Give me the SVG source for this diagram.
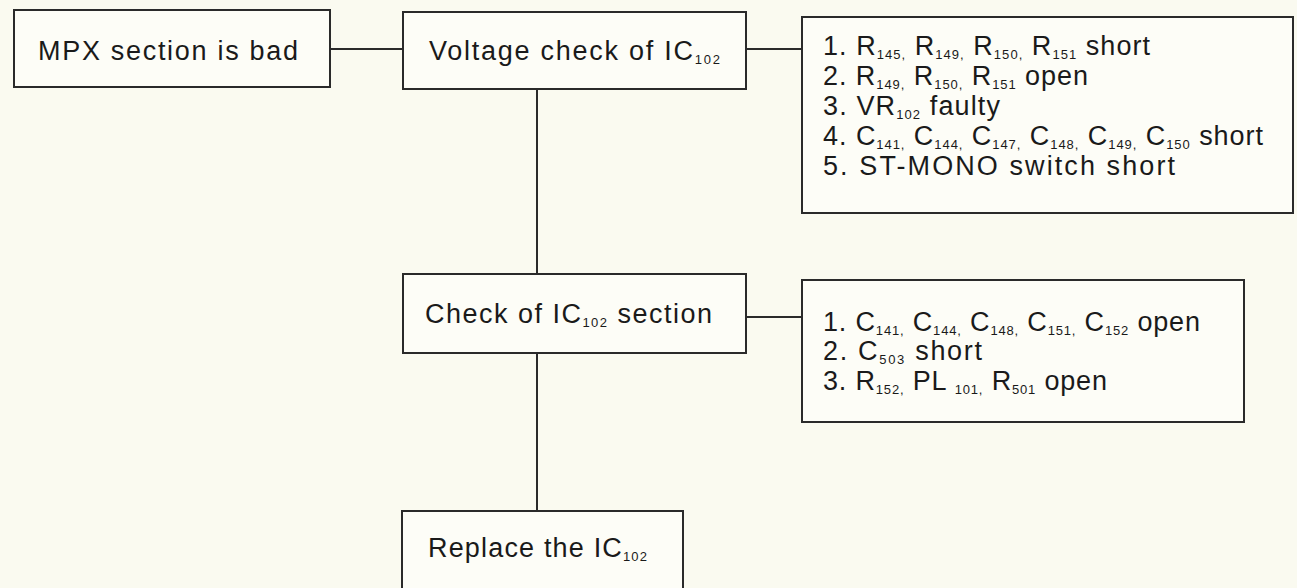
<svg xmlns="http://www.w3.org/2000/svg" width="1297" height="588" viewBox="0 0 1297 588">
<style>
.bx{fill:#fdfdf7;stroke:#2a2a2a;stroke-width:2}
.ln{stroke:#2a2a2a;stroke-width:2;fill:none}
text{font-family:"Liberation Sans",Arial,sans-serif;font-size:27px;fill:#1a1a1a}
.sb{font-size:13px}
</style>
<rect width="1297" height="588" fill="#fafaf0"/>
<g id="connectors">
<line class="ln" x1="330" y1="49" x2="403" y2="49"/>
<line class="ln" x1="746" y1="49" x2="802" y2="49"/>
<line class="ln" x1="537" y1="89" x2="537" y2="274"/>
<line class="ln" x1="746" y1="317" x2="802" y2="317"/>
<line class="ln" x1="537" y1="353" x2="537" y2="511"/>
</g>
<g id="mpx-bad">
<rect class="bx" x="14" y="10" width="316" height="77"/>
<text x="38" y="60" textLength="260" lengthAdjust="spacing">MPX section is bad</text>
</g>
<g id="voltage-check">
<rect class="bx" x="403" y="12" width="343" height="77"/>
<text x="429" y="60" textLength="291" lengthAdjust="spacing">Voltage check of IC<tspan class="sb" dy="4">102</tspan></text>
</g>
<g id="voltage-causes">
<rect class="bx" x="802" y="17" width="491" height="196"/>
<text x="823" y="55" textLength="327" lengthAdjust="spacing">1. R<tspan class="sb" dy="4">145,</tspan><tspan dy="-4"> R</tspan><tspan class="sb" dy="4">149,</tspan><tspan dy="-4"> R</tspan><tspan class="sb" dy="4">150,</tspan><tspan dy="-4"> R</tspan><tspan class="sb" dy="4">151</tspan><tspan dy="-4"> short</tspan></text>
<text x="823" y="85" textLength="265" lengthAdjust="spacing">2. R<tspan class="sb" dy="4">149,</tspan><tspan dy="-4"> R</tspan><tspan class="sb" dy="4">150,</tspan><tspan dy="-4"> R</tspan><tspan class="sb" dy="4">151</tspan><tspan dy="-4"> open</tspan></text>
<text x="823" y="115" textLength="177" lengthAdjust="spacing">3. VR<tspan class="sb" dy="4">102</tspan><tspan dy="-4"> faulty</tspan></text>
<text x="823" y="145" textLength="440" lengthAdjust="spacing">4. C<tspan class="sb" dy="4">141,</tspan><tspan dy="-4"> C</tspan><tspan class="sb" dy="4">144,</tspan><tspan dy="-4"> C</tspan><tspan class="sb" dy="4">147,</tspan><tspan dy="-4"> C</tspan><tspan class="sb" dy="4">148,</tspan><tspan dy="-4"> C</tspan><tspan class="sb" dy="4">149,</tspan><tspan dy="-4"> C</tspan><tspan class="sb" dy="4">150</tspan><tspan dy="-4"> short</tspan></text>
<text x="823" y="175" textLength="352" lengthAdjust="spacing">5. ST-MONO switch short</text>
</g>
<g id="ic-check">
<rect class="bx" x="403" y="274" width="343" height="79"/>
<text x="425" y="323" textLength="287" lengthAdjust="spacing">Check of IC<tspan class="sb" dy="4">102</tspan><tspan dy="-4"> section</tspan></text>
</g>
<g id="ic-causes">
<rect class="bx" x="802" y="280" width="442" height="142"/>
<text x="823" y="331" textLength="377" lengthAdjust="spacing">1.  C<tspan class="sb" dy="4">141,</tspan><tspan dy="-4"> C</tspan><tspan class="sb" dy="4">144,</tspan><tspan dy="-4"> C</tspan><tspan class="sb" dy="4">148,</tspan><tspan dy="-4"> C</tspan><tspan class="sb" dy="4">151,</tspan><tspan dy="-4"> C</tspan><tspan class="sb" dy="4">152</tspan><tspan dy="-4">  open</tspan></text>
<text x="823" y="360" textLength="159" lengthAdjust="spacing">2.  C<tspan class="sb" dy="4">503</tspan><tspan dy="-4"> short</tspan></text>
<text x="823" y="390" textLength="284" lengthAdjust="spacing">3.  R<tspan class="sb" dy="4">152,</tspan><tspan dy="-4"> PL </tspan><tspan class="sb" dy="4">101,</tspan><tspan dy="-4"> R</tspan><tspan class="sb" dy="4">501</tspan><tspan dy="-4">  open</tspan></text>
</g>
<g id="replace-ic">
<rect class="bx" x="402" y="511" width="281" height="80"/>
<text x="428" y="557" textLength="219" lengthAdjust="spacing">Replace the IC<tspan class="sb" dy="4">102</tspan></text>
</g>
</svg>
